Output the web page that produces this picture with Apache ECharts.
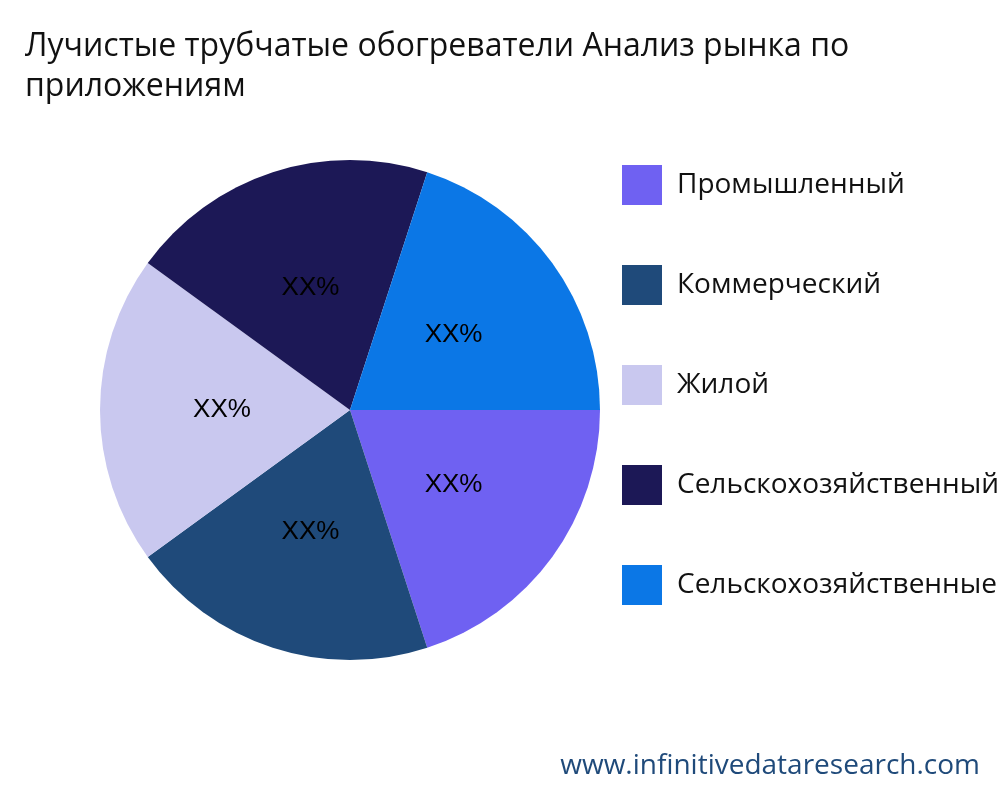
<!DOCTYPE html>
<html><head><meta charset="utf-8">
<script src="https://cdn.jsdelivr.net/npm/echarts@6/dist/echarts.min.js"></script>
<style>html,body{margin:0;padding:0;background:#fff}#c{width:1000px;height:800px}</style>
</head><body><div id="c"></div>
<script>
const categories = ["Промышленный","Коммерческий","Жилой","Сельскохозяйственный сектор","Сельскохозяйственные теплицы"];
const values = [20,20,20,20,20];
const labels = ["XX%","XX%","XX%","XX%","XX%"];
const colors = ["#6f61f2","#1f4a7a","#c9c8ef","#1c1856","#0b77e6"];
const chart = echarts.init(document.getElementById('c'));
chart.setOption({
  animation:false,
  title:{text:"Лучистые трубчатые обогреватели Анализ рынка по\nприложениям",left:20,top:22,
    textStyle:{fontFamily:"Open Sans",fontSize:32,fontWeight:"normal",color:"#111",lineHeight:40}},
  graphic:[{type:"text",right:20,top:752,style:{text:"www.infinitivedataresearch.com",font:"28px 'Open Sans'",fill:"#1f4a7a"}}],
  legend:{orient:"vertical",left:617,top:160,itemWidth:40,itemHeight:40,itemGap:60,icon:"rect",
    textStyle:{fontFamily:"Open Sans",fontSize:28,color:"#111",padding:[0,0,0,10]}},
  series:[{type:"pie",center:[350,410],radius:250,startAngle:0,clockwise:true,
    color:colors,
    label:{position:"inside",formatter:p=>labels[p.dataIndex],fontFamily:"Liberation Sans",fontSize:26,color:"#000"},
    labelLine:{show:false},
    data:categories.map((n,i)=>({name:n,value:values[i]}))}]
});
</script></body></html>
